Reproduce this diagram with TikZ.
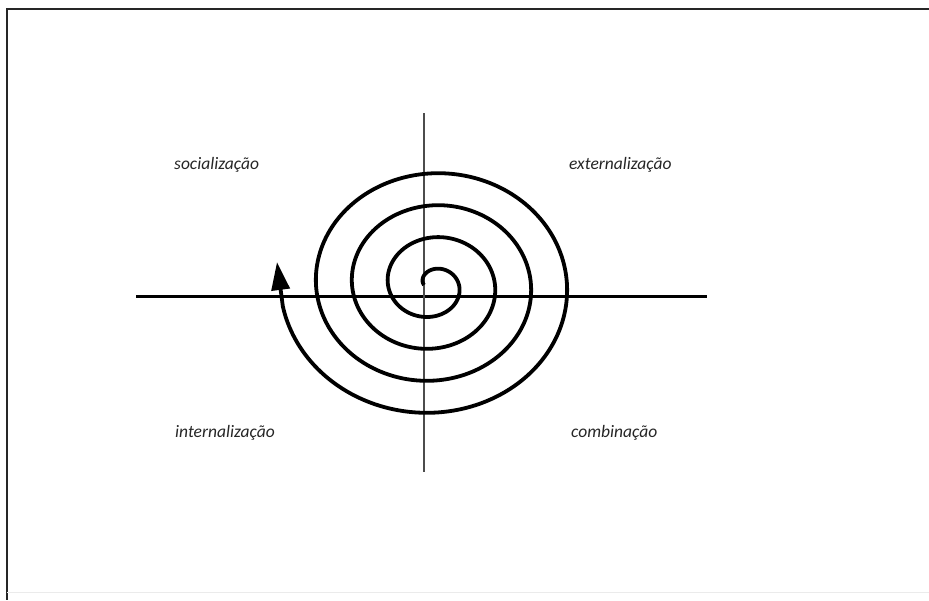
\documentclass[tikz,border=0pt]{standalone}
\usepackage{fontspec}
\setmainfont{Carlito}
\usetikzlibrary{arrows.meta}
\tikzset{
  quadlabel/.style={font=\itshape\fontsize{17.5}{20}\selectfont, text=black!85, inner sep=0pt},
  axisH/.style={line width=3.8pt, black},
  axisV/.style={line width=1.6pt, black!70},
  spiralline/.style={line width=3.8pt, black, line join=round},
  framel/.style={line width=1.8pt, black!85}
}
\begin{document}
\begin{tikzpicture}[x=1pt,y=-1pt]
\useasboundingbox (0,0) rectangle (929,600);
% frame
\draw[framel] (929,9) -- (7,9) -- (7,600);
\draw[line width=0.8pt, black!8] (7,592) -- (929,592);
% axes
\coordinate (hl) at (136,296.5);
\coordinate (hr) at (707,296.5);
\coordinate (vt) at (424,113);
\coordinate (vb) at (424,472);
\draw[axisH] (hl) -- (hr);
\draw[axisV] (vt) -- (vb);
% spiral
\coordinate (tip) at (277,262);
\draw[spiralline, -{Triangle[length=28pt,width=18pt]}]
  plot[domain=-0.25:3.73, samples=500, variable=\t, smooth]
  ({432.5+(17.5+36*\t)*sin(360*\t)}, {285-0.89*(17.5+36*\t)*cos(360*\t)})
  -- (tip);
% labels
\node[quadlabel, anchor=west] (soc) at (174,165) {socialização};
\node[quadlabel, anchor=west] (ext) at (569,165) {externalização};
\node[quadlabel, anchor=west] (int) at (175,433) {internalização};
\node[quadlabel, anchor=west] (com) at (571,433) {combinação};
\end{tikzpicture}
\end{document}
